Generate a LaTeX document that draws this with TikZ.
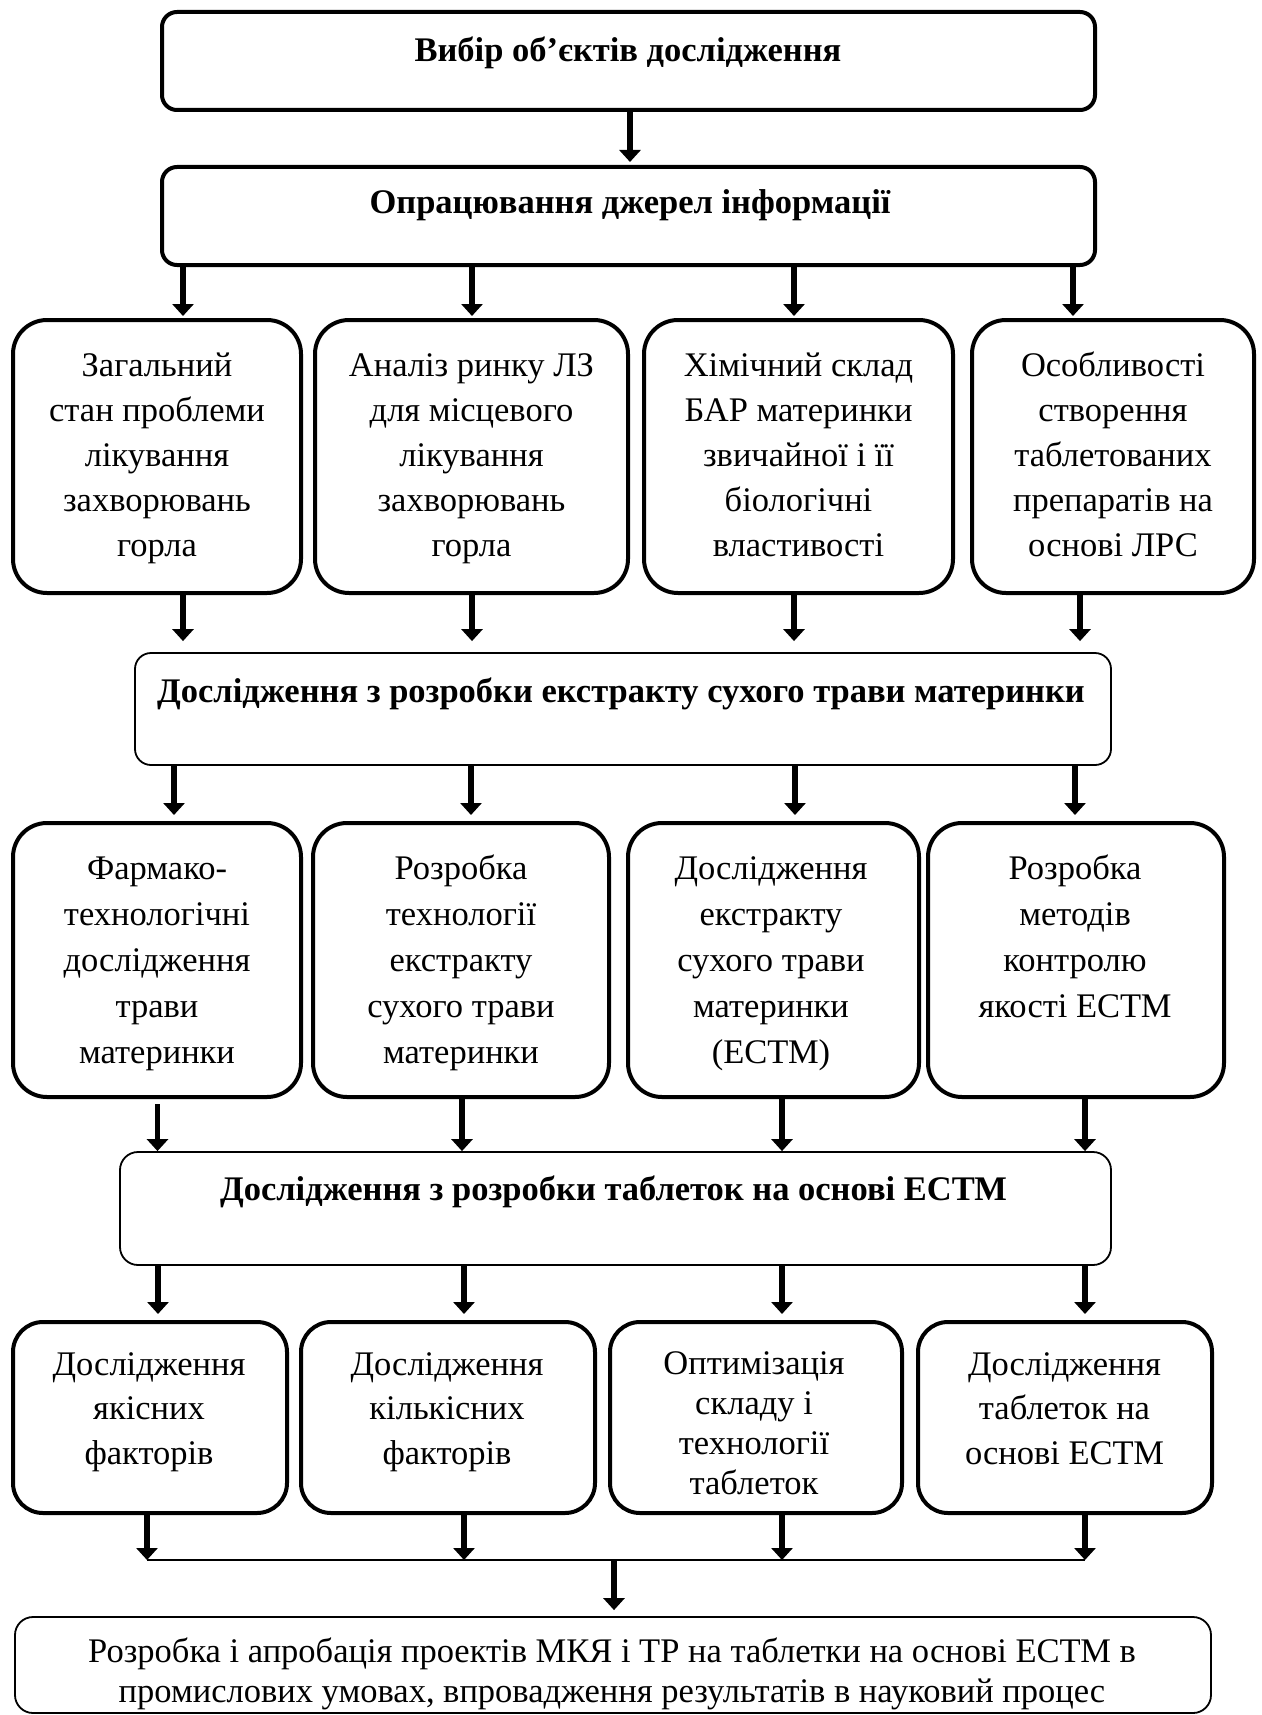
\documentclass[tikz,border=0pt]{standalone}
\usepackage{fontspec}
\setmainfont{Liberation Serif}
\usetikzlibrary{arrows.meta}
\newcommand\mlines[1]{\begin{tabular}[t]{@{}c@{}}#1\end{tabular}}
\begin{document}
\begin{tikzpicture}[x=1pt,y=-1pt,
  bigbox/.style={draw, line width=4pt, rounded corners=15pt, inner sep=0pt},
  rowbox/.style={draw, line width=4pt, rounded corners=34pt, inner sep=0pt},
  thinbox/.style={draw, line width=1.8pt, rounded corners=18pt, inner sep=0pt},
  txt/.style={inner sep=0pt, anchor=base, font=\fontsize{34.5}{45}\selectfont},
  txtw/.style={inner sep=0pt, anchor=base, font=\fontsize{34.5}{46}\selectfont},
  txtn/.style={inner sep=0pt, anchor=base, font=\fontsize{34.5}{40}\selectfont},
  txtb/.style={inner sep=0pt, anchor=base, font=\fontsize{34.5}{45}\selectfont\bfseries},
  arr/.style={line width=5.5pt, -{Triangle[width=21pt,length=12pt]}},
  joinline/.style={line width=2pt}]
\useasboundingbox (0,0) rectangle (1261,1715);
\fill[white] (0,0) rectangle (1261,1715);

% top boxes
\node[bigbox, minimum width=933pt, minimum height=98pt] (b1) at (628.5,61) {};
\node[txtb] (t1) at (628,62) {Вибір об’єктів дослідження};
\node[bigbox, minimum width=933pt, minimum height=98pt] (b2) at (628.5,216) {};
\node[txtb] (t2) at (630,214) {Опрацювання джерел інформації};

% row 1
\node[rowbox, minimum width=288pt, minimum height=273pt] (rA) at (157,456.5) {};
\node[rowbox, minimum width=313pt, minimum height=273pt] (rB) at (471.5,456.5) {};
\node[rowbox, minimum width=309pt, minimum height=273pt] (rC) at (798.5,456.5) {};
\node[rowbox, minimum width=282pt, minimum height=273pt] (rD) at (1113,456.5) {};
\node[txt] (tA) at (157,376) {\mlines{Загальний\\стан проблеми\\лікування\\захворювань\\горла}};
\node[txt] (tB) at (471.5,376) {\mlines{Аналіз ринку ЛЗ\\для місцевого\\лікування\\захворювань\\горла}};
\node[txt] (tC) at (798.5,376) {\mlines{Хімічний склад\\БАР материнки\\звичайної і її\\біологічні\\властивості}};
\node[txt] (tD) at (1113,376) {\mlines{Особливості\\створення\\таблетованих\\препаратів на\\основі ЛРС}};

% box 3
\node[thinbox, rounded corners=16pt, minimum width=976pt, minimum height=112pt] (b3) at (623,709) {};
\node[txtb] (t3) at (621,702) {Дослідження з розробки екстракту сухого трави материнки};

% row 2
\node[rowbox, minimum width=288pt, minimum height=274pt] (rE) at (157,960) {};
\node[rowbox, minimum width=296pt, minimum height=274pt] (rF) at (461,960) {};
\node[rowbox, minimum width=291pt, minimum height=274pt] (rG) at (773.5,960) {};
\node[rowbox, minimum width=296pt, minimum height=274pt] (rH) at (1076,960) {};
\node[txtw] (tE) at (157,879) {\mlines{Фармако-\\технологічні\\дослідження\\трави\\материнки}};
\node[txtw] (tF) at (461,879) {\mlines{Розробка\\технології\\екстракту\\сухого трави\\материнки}};
\node[txtw] (tG) at (771,879) {\mlines{Дослідження\\екстракту\\сухого трави\\материнки\\(ЕСТМ)}};
\node[txtw] (tH) at (1075,879) {\mlines{Розробка\\методів\\контролю\\якості ЕСТМ}};

% box 4
\node[thinbox, minimum width=991pt, minimum height=113pt] (b4) at (615.5,1208.5) {};
\node[txtb] (t4) at (613.5,1200) {Дослідження з розробки таблеток на основі ЕСТМ};

% row 3
\node[rowbox, rounded corners=30pt, minimum width=274pt, minimum height=191pt] (rI) at (150,1417.5) {};
\node[rowbox, rounded corners=30pt, minimum width=294pt, minimum height=191pt] (rJ) at (448,1417.5) {};
\node[rowbox, rounded corners=30pt, minimum width=292pt, minimum height=191pt] (rK) at (756,1417.5) {};
\node[rowbox, rounded corners=30pt, minimum width=294pt, minimum height=191pt] (rL) at (1065,1417.5) {};
\node[txt, font=\fontsize{34.5}{44.5}\selectfont] (tI) at (149,1375) {\mlines{Дослідження\\якісних\\факторів}};
\node[txt, font=\fontsize{34.5}{44.5}\selectfont] (tJ) at (447,1375) {\mlines{Дослідження\\кількісних\\факторів}};
\node[txtn] (tK) at (754,1374) {\mlines{Оптимізація\\складу і\\технології\\таблеток}};
\node[txt, font=\fontsize{34.5}{44.5}\selectfont] (tL) at (1064.5,1375) {\mlines{Дослідження\\таблеток на\\основі ЕСТМ}};

% box 5
\node[thinbox, minimum width=1196pt, minimum height=96pt] (b5) at (613,1665) {};
\node[txtn] (t5) at (612,1662) {\mlines{Розробка і апробація проектів МКЯ і ТР на таблетки на основі ЕСТМ в\\промислових умовах, впровадження результатів в науковий процес}};

% junction coordinates
\coordinate (jL) at (147,1560);
\coordinate (jR) at (1085,1560);
\coordinate (jM) at (614,1560);

% arrows
\draw[arr, shorten >=3pt] (b1.south -| 630,0) -- (b2.north -| 630,0);
\draw[arr, shorten >=2pt] (b2.south -| 183,0) -- (rA.north -| 183,0);
\draw[arr, shorten >=2pt] (b2.south -| 472,0) -- (rB.north -| 472,0);
\draw[arr, shorten >=2pt] (b2.south -| 794,0) -- (rC.north -| 794,0);
\draw[arr, shorten >=2pt] (b2.south -| 1073,0) -- (rD.north -| 1073,0);

\draw[arr, shorten >=11pt] (rA.south -| 183,0) -- (b3.north -| 183,0);
\draw[arr, shorten >=11pt] (rB.south -| 472,0) -- (b3.north -| 472,0);
\draw[arr, shorten >=11pt] (rC.south -| 794,0) -- (b3.north -| 794,0);
\draw[arr, shorten >=11pt] (rD.south -| 1080,0) -- (b3.north -| 1080,0);

\draw[arr, shorten >=6pt] (b3.south -| 174,0) -- (rE.north -| 174,0);
\draw[arr, shorten >=6pt] (b3.south -| 471,0) -- (rF.north -| 471,0);
\draw[arr, shorten >=6pt] (b3.south -| 795,0) -- (rG.north -| 795,0);
\draw[arr, shorten >=6pt] (b3.south -| 1075,0) -- (rH.north -| 1075,0);

\draw[arr, shorten <=5pt] (rE.south -| 157.5,0) -- (b4.north -| 157.5,0);
\draw[arr] (rF.south -| 462,0) -- (b4.north -| 462,0);
\draw[arr] (rG.south -| 782,0) -- (b4.north -| 782,0);
\draw[arr] (rH.south -| 1085,0) -- (b4.north -| 1085,0);

\draw[arr, shorten >=6pt] (b4.south -| 158,0) -- (rI.north -| 158,0);
\draw[arr, shorten >=6pt] (b4.south -| 464,0) -- (rJ.north -| 464,0);
\draw[arr, shorten >=6pt] (b4.south -| 782,0) -- (rK.north -| 782,0);
\draw[arr, shorten >=6pt] (b4.south -| 1085,0) -- (rL.north -| 1085,0);

\draw[arr] (rI.south -| jL) -- (jL);
\draw[arr] (rJ.south -| 464,0) -- (jL -| 464,0);
\draw[arr] (rK.south -| 782,0) -- (jL -| 782,0);
\draw[arr] (rL.south -| jR) -- (jR);
\draw[joinline] (jL) -- (jR);
\draw[arr, shorten >=6pt] (jM) -- (b5.north -| jM);
\end{tikzpicture}
\end{document}
